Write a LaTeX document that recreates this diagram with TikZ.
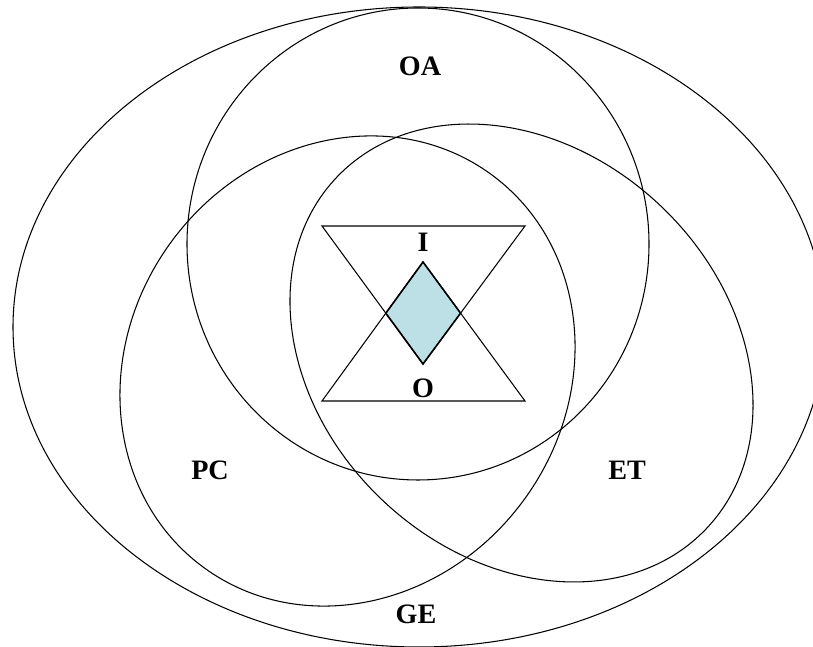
\documentclass[tikz,border=0pt]{standalone}
\usepackage{fontspec}
\setmainfont{Liberation Serif}
\usetikzlibrary{positioning}
\definecolor{gemblue}{RGB}{188,224,229}

\begin{document}
\begin{tikzpicture}[
    ring/.style={draw=black, line width=0.6pt},
    tri/.style={draw=black, line width=0.6pt, line join=miter},
    lbl/.style={font=\fontsize{16}{18}\selectfont\bfseries, inner sep=0pt},
  ]
    \useasboundingbox (0,0) rectangle (16.26,12.94);
    % outer set
    \draw[ring] (8.38,6.40) ellipse (8.12 and 6.40);
    % three inner sets
    \draw[ring] (8.36,8.06) ellipse (4.62 and 4.72);
    \draw[ring, rotate around={53.75:(6.95,5.52)}] (6.95,5.52) ellipse (4.87 and 4.37);
    \draw[ring, rotate around={-43.6:(10.43,5.88)}] (10.43,5.88) ellipse (5.10 and 4.05);
    % hourglass corners
    \coordinate (TL) at (6.44,8.42);
    \coordinate (TR) at (10.50,8.42);
    \coordinate (BL) at (6.44,4.92);
    \coordinate (BR) at (10.50,4.92);
    \coordinate (Ttip) at (8.46,5.66);
    \coordinate (Btip) at (8.46,7.70);
    \coordinate (Dl) at (intersection of TL--Ttip and BL--Btip);
    \coordinate (Dr) at (intersection of TR--Ttip and BR--Btip);
    % shaded core
    \fill[gemblue] (Btip) -- (Dr) -- (Ttip) -- (Dl) -- cycle;
    \draw[tri] (TL) -- (TR) -- (Ttip) -- cycle;
    \draw[tri] (BL) -- (BR) -- (Btip) -- cycle;
    \draw[tri, line width=0.9pt] (Btip) -- (Dr) -- (Ttip) -- (Dl) -- cycle;
    % labels
    \node[lbl] (oa) at (8.40,11.62) {OA};
    \node[lbl] (in) at (8.46,8.10) {I};
    \node[lbl] (out) at (8.46,5.18) {O};
    \node[lbl] (pc) at (4.20,3.54) {PC};
    \node[lbl] (et) at (12.54,3.54) {ET};
    \node[lbl] (ge) at (8.32,0.66) {GE};
  \end{tikzpicture}
\end{document}
